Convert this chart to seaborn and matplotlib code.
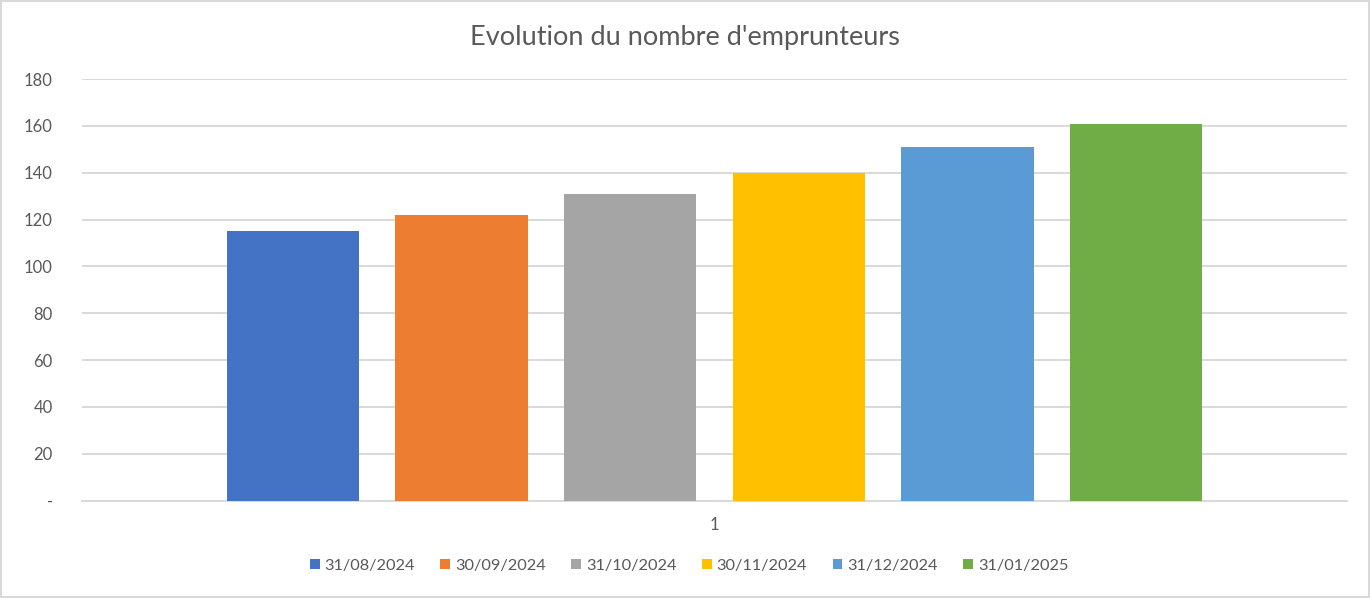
import numpy as np
import pandas as pd
import matplotlib
matplotlib.use("Agg")
import matplotlib.pyplot as plt
import seaborn as sns

# Data
dates = ["31/08/2024", "30/09/2024", "31/10/2024", "30/11/2024", "31/12/2024", "31/01/2025"]
emprunteurs = [115, 122, 131, 140, 151, 161]
category = ["1"] * len(dates)
colors = ["#4472C4", "#ED7D31", "#A5A5A5", "#FFC000", "#5B9BD5", "#70AD47"]

df = pd.DataFrame({"cat": category, "date": dates, "n": emprunteurs})

sns.set_style("white")
plt.rcParams['font.family'] = ['Lato', 'DejaVu Sans']

fig = plt.figure(figsize=(13.7, 5.98), dpi=100, edgecolor="#D9D9D9", linewidth=1.5)
ax = fig.add_axes([82 / 1370, 1 - 500.7 / 598, (1347 - 82) / 1370, (500.7 - 79) / 598])

sns.barplot(data=df, x="cat", y="n", hue="date", palette=colors,
            width=0.8, gap=0.215, saturation=1, linewidth=0, ax=ax, zorder=3)

ax.set_ylim(0, 180)
ax.set_xlim(-0.5, 0.5)
ax.set_yticks(range(0, 181, 20))
ax.set_yticklabels(["-"] + [str(v) for v in range(20, 181, 20)])
ax.yaxis.grid(True, color="#D9D9D9", linewidth=1.4, zorder=0)
ax.set_axisbelow(True)
for s in ["top", "right", "left"]:
    ax.spines[s].set_visible(False)
ax.spines["bottom"].set_color("#D9D9D9")
ax.spines["bottom"].set_linewidth(1.4)
ax.tick_params(axis="both", length=0, labelsize=12, labelcolor="#595959")
ax.tick_params(axis="y", pad=21)
ax.tick_params(axis="x", pad=12)
ax.set_xlabel("")
ax.set_ylabel("")

# Title centred on the whole figure, like the Excel chart
fig.suptitle("Evolution du nombre d'emprunteurs", fontsize=19.5, color="#595959",
             x=0.5, y=1 - 37 / 598, va="center")

ax.legend_.remove()
handles, labels = ax.get_legend_handles_labels()
fig.legend(handles, labels, loc="center", bbox_to_anchor=(0.503, 1 - 566 / 598), ncol=6,
           frameon=False, fontsize=11.8, labelcolor="#595959",
           handlelength=0.6, handleheight=0.6, handletextpad=0.3, columnspacing=1.55)

fig.savefig("out.png", dpi=100, edgecolor=fig.get_edgecolor())
